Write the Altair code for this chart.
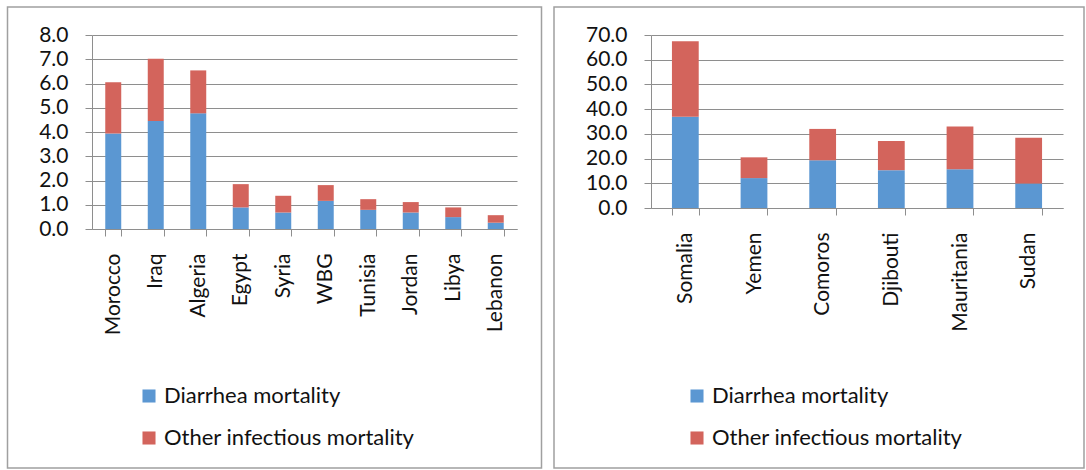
import altair as alt
import pandas as pd

# Mortality per country, split into diarrhea and other infectious causes
left_countries = ["Morocco", "Iraq", "Algeria", "Egypt", "Syria", "WBG",
                  "Tunisia", "Jordan", "Libya", "Lebanon"]
left_diarrhea = [3.94, 4.45, 4.77, 0.89, 0.68, 1.16, 0.79, 0.68, 0.49, 0.26]
left_other = [2.11, 2.57, 1.77, 0.96, 0.69, 0.65, 0.44, 0.43, 0.40, 0.31]

right_countries = ["Somalia", "Yemen", "Comoros", "Djibouti", "Mauritania", "Sudan"]
right_diarrhea = [36.9, 12.1, 19.3, 15.3, 15.7, 9.9]
right_other = [30.6, 8.4, 12.7, 11.8, 17.3, 18.5]

series = ["Diarrhea mortality", "Other infectious mortality"]
colors = ["#5B97D2", "#D3645C"]

left_ticks = [0, 1, 2, 3, 4, 5, 6, 7, 8]
right_ticks = [0, 10, 20, 30, 40, 50, 60, 70]

FONT = "Lato"
GRID = "#8E8E8E"


def long_table(countries, diarrhea, other):
    rows = []
    for c, d, o in zip(countries, diarrhea, other):
        rows.append({"country": c, "series": series[0], "order": 0, "value": d})
        rows.append({"country": c, "series": series[1], "order": 1, "value": o})
    return pd.DataFrame(rows)


def panel(countries, diarrhea, other, ticks, width, height, pad_inner,
          frame, legend_x):
    data = long_table(countries, diarrhea, other)
    bars = alt.Chart(data).mark_bar().encode(
        x=alt.X("country:N", sort=countries, title=None,
                scale=alt.Scale(paddingInner=pad_inner, paddingOuter=pad_inner / 2),
                axis=alt.Axis(labelAngle=-90, labelFont=FONT, labelFontSize=21,
                              labelColor="#111", labelPadding=17, tickBand="extent",
                              tickSize=7, tickColor=GRID, domainColor=GRID,
                              labelLimit=300)),
        y=alt.Y("value:Q", stack="zero", title=None,
                scale=alt.Scale(domain=[ticks[0], ticks[-1]], nice=False),
                axis=alt.Axis(values=ticks, format=".1f", labelFont=FONT,
                              labelFontSize=21, labelColor="#111", labelPadding=17,
                              tickSize=7, tickColor=GRID, domainColor=GRID,
                              gridColor=GRID, grid=True)),
        color=alt.Color("series:N",
                        scale=alt.Scale(domain=series, range=colors),
                        legend=alt.Legend(title=None, orient="none",
                                          legendX=legend_x, legendY=350,
                                          direction="vertical", symbolType="square",
                                          symbolSize=170, symbolStrokeWidth=0,
                                          labelFont=FONT, labelFontSize=22,
                                          labelColor="#111", labelOffset=4,
                                          labelLimit=400,
                                          rowPadding=20, padding=0)),
        order=alt.Order("order:Q", sort="ascending"),
    ).properties(width=width, height=height)

    x0, x1, y0, y1 = frame
    border = alt.Chart(pd.DataFrame({"k": [0]})).mark_rect(
        fillOpacity=0, stroke="#A0A0A0", strokeWidth=1.5
    ).encode(
        x=alt.value(x0), x2=alt.value(x1), y=alt.value(y0), y2=alt.value(y1)
    )
    return alt.layer(border, bars)


left = panel(left_countries, left_diarrhea, left_other, left_ticks,
             425, 194, 0.624, (-84.5, 449.5, -28, 433), 46)
right = panel(right_countries, right_diarrhea, right_other, right_ticks,
              412, 173, 0.61, (-97, 433, -28, 433), 35)

chart = alt.hconcat(left, right, spacing=10).resolve_scale(
    color="independent", x="independent", y="independent"
).properties(
    padding={"left": 6, "top": 6, "right": 0, "bottom": 0},
    background="white",
).configure_view(stroke=None)

chart.save("out.html", embed_options={"renderer": "svg", "actions": False})
